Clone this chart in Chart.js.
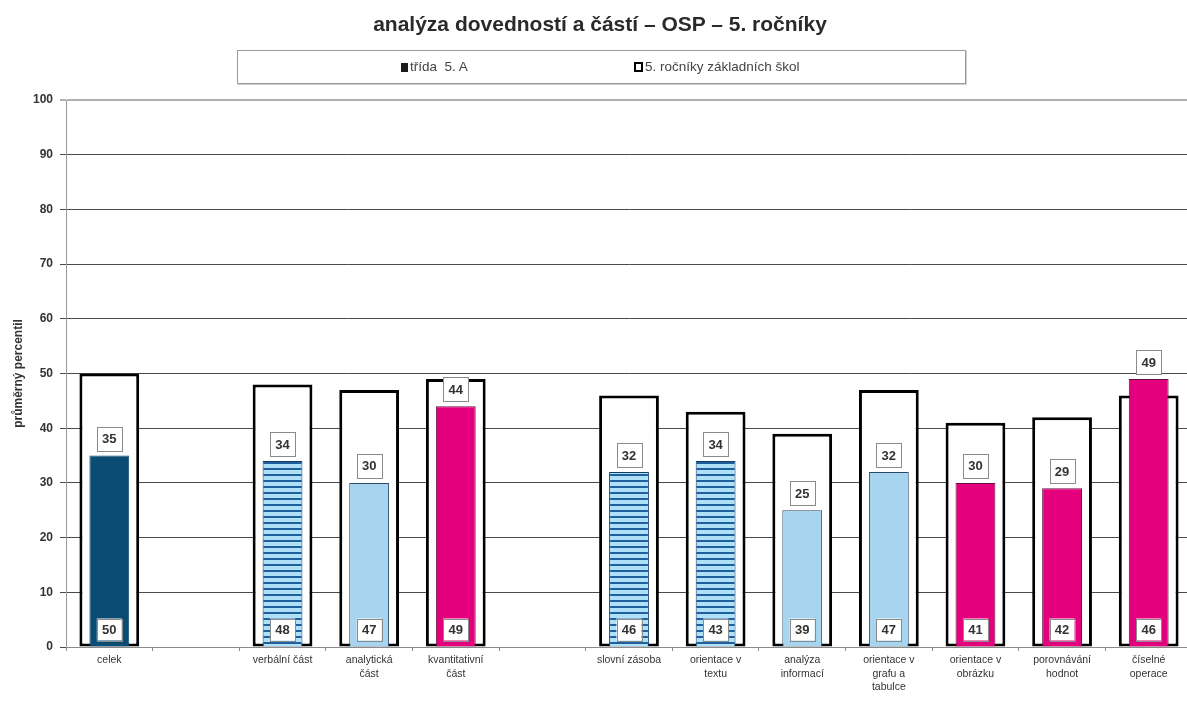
<!DOCTYPE html>
<html>
<head>
<meta charset="utf-8">
<script src="https://cdn.jsdelivr.net/npm/chart.js@4/dist/chart.umd.min.js"></script>
<style>
  html, body { margin: 0; padding: 0; background: #fff; overflow: hidden; width: 1187px; height: 702px; }
  #wrap { position: relative; width: 1195px; height: 702px; }
  #c { position: absolute; left: 0; top: 0; }
  #title { position: absolute; left: 0; width: 1200px; top: 12px; text-align: center; line-height: 24px;
           font: bold 21px "Liberation Sans", Arial, sans-serif; color: #2a2a2a; }
  #legend { position: absolute; left: 237px; top: 50px; width: 727px; height: 32px;
            border: 1px solid #9a9a9a; box-shadow: 1px 1px 0 #d0d0d0; background: #fff;
            font: 13.5px "Liberation Sans", Arial, sans-serif; color: #444; }
  .li { position: absolute; top: 8px; white-space: nowrap; }
  .mk { display: inline-block; width: 7px; height: 9px; vertical-align: -1px; margin-right: 2px; box-sizing: border-box; }
</style>
</head>
<body>
<div id="wrap">
  <canvas id="c" width="1195" height="702"></canvas>
  <div id="title">analýza dovedností a částí – OSP – 5. ročníky</div>
  <div id="legend">
    <span class="li" style="left:163px"><span class="mk" style="background:#1a1a1a"></span>třída&nbsp; 5. A</span>
    <span class="li" style="left:396px"><span class="mk" style="background:#fff;border:2.5px solid #000;width:9px;height:10px"></span>5. ročníky základních škol</span>
  </div>
</div>
<script>
const categories = [
  "celek", "", "verbální část", ["analytická", "část"], ["kvantitativní", "část"], "",
  "slovní zásoba", ["orientace v", "textu"], ["analýza", "informací"],
  ["orientace v", "grafu a", "tabulce"], ["orientace v", "obrázku"],
  ["porovnávání", "hodnot"], ["číselné", "operace"]
];
const tridaValues   = [35, null, 34, 30, 44, null, 32, 34, 25, 32, 30, 29, 49];
const rocnikyValues = [50, null, 48, 47, 49, null, 46, 43, 39, 47, 41, 42, 46];
const seriesNames = ["třída  5. A", "5. ročníky základních škol"];
const yTicks = [0, 10, 20, 30, 40, 50, 60, 70, 80, 90, 100];
const fillKind = ["navy", null, "stripe", "light", "magenta", null, "stripe", "stripe", "light", "light", "magenta", "magenta", "magenta"];

const ctx = document.getElementById('c').getContext('2d');

function makeStripe() {
  const p = document.createElement('canvas');
  p.width = 4; p.height = 6;
  const g = p.getContext('2d');
  g.fillStyle = '#aee0f7'; g.fillRect(0, 0, 4, 6);
  g.fillStyle = '#1f5f9e'; g.fillRect(0, 0, 4, 2);
  return ctx.createPattern(p, 'repeat');
}
const stripe = makeStripe();
const fills = { navy: '#0b4c75', light: '#a7d5ef', magenta: '#e4007c', stripe: stripe };
const borders = { navy: '#0b4c75', light: '#2a4a66', magenta: '#6a1040', stripe: '#123e66' };

const labelPlugin = {
  id: 'boxLabels',
  afterDatasetsDraw(chart) {
    const c = chart.ctx;
    c.save();
    c.font = 'bold 13px "Liberation Sans", Arial, sans-serif';
    c.textAlign = 'center';
    c.textBaseline = 'middle';
    const drawBox = (x, top, h, text) => {
      const w = 25;
      c.fillStyle = '#fff';
      c.fillRect(x - w / 2, top, w, h);
      c.strokeStyle = '#8a8a8a';
      c.lineWidth = 1;
      c.strokeRect(Math.round(x - w / 2) + 0.5, Math.round(top) + 0.5, w, h);
      c.fillStyle = '#333';
      c.fillText(text, x, top + h / 2 + 1);
    };
    const m1 = chart.getDatasetMeta(1);
    m1.data.forEach((el, i) => {
      const v = rocnikyValues[i];
      if (v == null) return;
      drawBox(el.x, el.base - 6 - 22, 22, String(v));
    });
    const m0 = chart.getDatasetMeta(0);
    m0.data.forEach((el, i) => {
      const v = tridaValues[i];
      if (v == null) return;
      drawBox(el.x, el.y - 5 - 24, 24, String(v));
    });
    c.restore();
  }
};

new Chart(ctx, {
  type: 'bar',
  data: {
    labels: categories,
    datasets: [
      {
        label: seriesNames[0],
        data: tridaValues,
        backgroundColor: fillKind.map(k => k ? fills[k] : 'transparent'),
        borderColor: fillKind.map(k => k ? borders[k] : 'transparent'),
        borderWidth: 1,
        borderSkipped: 'start',
        categoryPercentage: 1,
        barPercentage: 0.46,
        grouped: false
      },
      {
        label: seriesNames[1],
        data: rocnikyValues,
        backgroundColor: '#ffffff',
        borderColor: '#000000',
        borderWidth: 3,
        borderSkipped: false,
        categoryPercentage: 1,
        barPercentage: 0.69,
        grouped: false
      }
    ]
  },
  options: {
    responsive: false,
    animation: false,
    devicePixelRatio: 1,
    layout: { padding: { top: 100, left: 0, right: 3, bottom: 0 } },
    plugins: {
      legend: { display: false },
      title: { display: false },
      tooltip: { enabled: false }
    },
    scales: {
      x: {
        offset: true,
        grid: { offset: true, drawOnChartArea: false, drawTicks: true, tickLength: 4, color: '#8a8a8a' },
        border: { display: true, color: '#8a8a8a', width: 1 },
        ticks: {
          autoSkip: false, maxRotation: 0, minRotation: 0, padding: 3,
          color: '#333',
          font: { family: '"Liberation Sans Narrow", "Liberation Sans", Arial, sans-serif', size: 10.5, lineHeight: 1.25 }
        },
        afterFit(scale) { scale.height = 55; }
      },
      y: {
        min: 0, max: 100,
        afterBuildTicks(scale) { scale.ticks = yTicks.map(v => ({ value: v })); },
        grid: {
          color: ctx => (ctx.tick && ctx.tick.value === 100) ? '#b0b0b0' : '#4a4a4a',
          lineWidth: ctx => (ctx.tick && ctx.tick.value === 100) ? 2 : 1,
          drawTicks: true, tickLength: 6
        },
        border: { display: true, color: '#9a9a9a', width: 1 },
        ticks: {
          padding: 7, color: '#333',
          font: { family: '"Liberation Sans", Arial, sans-serif', size: 12, weight: 'bold' }
        },
        title: {
          display: true, text: 'průměrný percentil', color: '#333',
          font: { family: '"Liberation Sans", Arial, sans-serif', size: 12, weight: 'bold' },
          padding: { top: 11, bottom: 0 }
        },
        afterFit(scale) { scale.width = 66; }
      }
    }
  },
  plugins: [labelPlugin]
});
</script>
</body>
</html>
